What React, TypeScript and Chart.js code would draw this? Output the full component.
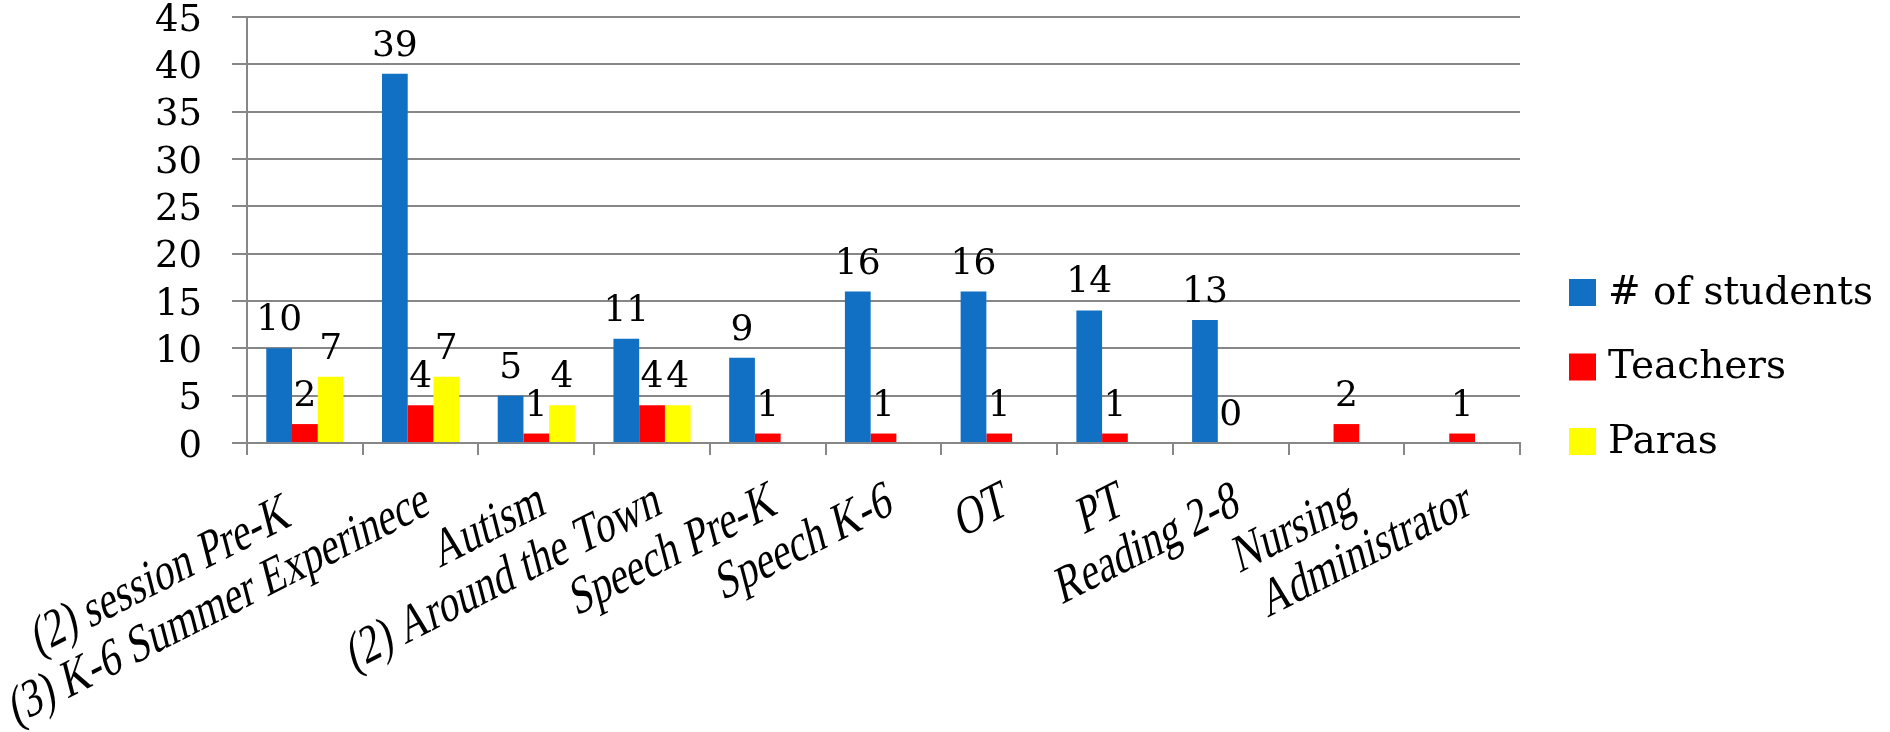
import { useEffect, useRef } from "react";
import { Chart, registerables } from "chart.js";

Chart.register(...registerables);

// Programme categories along the x axis
const categories = [
  "(2) session Pre-K",
  "(3) K-6 Summer Experinece",
  "Autism",
  "(2) Around the Town",
  "Speech Pre-K",
  "Speech K-6",
  "OT",
  "PT",
  "Reading 2-8",
  "Nursing",
  "Administrator",
];

// Series values (null = no bar, no label)
const studentCounts: (number | null)[] = [10, 39, 5, 11, 9, 16, 16, 14, 13, null, null];
const teacherCounts: (number | null)[] = [2, 4, 1, 4, 1, 1, 1, 1, 0, 2, 1];
const paraCounts: (number | null)[] = [7, 7, 4, 4, null, null, null, null, null, null, null];

const seriesNames = ["# of students", "Teachers", "Paras"];
const seriesColors = ["#1170C4", "#FF0000", "#FFFF00"];

// Value axis
const yMin = 0;
const yMax = 45;
const yStep = 5;

const AXIS_GRAY = "#878787";
const NUM_FONT = "'DejaVu Serif', serif";
const CAT_FONT = "'Liberation Serif', 'Times New Roman', serif";

// Numbers printed above each bar
const valueLabelPlugin = {
  id: "valueLabels",
  afterDatasetsDraw(chart: any) {
    const ctx = chart.ctx;
    ctx.save();
    ctx.font = `36px ${NUM_FONT}`;
    ctx.fillStyle = "#000000";
    ctx.textAlign = "center";
    ctx.textBaseline = "alphabetic";
    chart.data.datasets.forEach((ds: any, di: number) => {
      const meta = chart.getDatasetMeta(di);
      meta.data.forEach((bar: any, i: number) => {
        const v = ds.data[i];
        if (v === null || v === undefined) return;
        ctx.fillText(String(v), bar.x, bar.y - 18);
      });
    });
    ctx.restore();
  },
};

// Slanted, tall category names under the x axis
const categoryLabelPlugin = {
  id: "categoryLabels",
  afterDraw(chart: any) {
    const ctx = chart.ctx;
    const xScale = chart.scales.x;
    const angle = (20 * Math.PI) / 180;
    ctx.save();
    ctx.font = `39px ${CAT_FONT}`;
    ctx.fillStyle = "#000000";
    ctx.textAlign = "right";
    ctx.textBaseline = "alphabetic";
    chart.data.labels.forEach((label: string, i: number) => {
      const cx = xScale.getPixelForValue(i);
      ctx.save();
      ctx.translate(cx + 11, xScale.top + 70);
      ctx.scale(1, 1.4);
      ctx.rotate(-angle);
      // the first name sits a little further down its slant
      ctx.fillText(label, i === 0 ? -25 : 0, 0);
      ctx.restore();
    });
    ctx.restore();
  },
};

// Legend column to the right of the plot
const legendPlugin = {
  id: "sideLegend",
  afterDraw(chart: any) {
    const ctx = chart.ctx;
    const area = chart.chartArea;
    const boxX = area.right + 49;
    const box = 27;
    const rowGap = 74.5;
    const midY = 367;
    const n = chart.data.datasets.length;
    ctx.save();
    ctx.font = `39px ${NUM_FONT}`;
    ctx.textAlign = "left";
    ctx.textBaseline = "middle";
    chart.data.datasets.forEach((ds: any, i: number) => {
      const y = midY + (i - (n - 1) / 2) * rowGap;
      ctx.fillStyle = ds.backgroundColor;
      ctx.fillRect(boxX, y - box / 2, box, box);
      ctx.fillStyle = "#000000";
      ctx.fillText(ds.label, boxX + box + 12, y + 1);
    });
    ctx.restore();
  },
};

export default function App() {
  const canvasRef = useRef<HTMLCanvasElement | null>(null);

  useEffect(() => {
    document.body.style.margin = "0";
    const canvas = canvasRef.current;
    if (!canvas) return;

    const seriesValues = [studentCounts, teacherCounts, paraCounts];

    const chart = new Chart(canvas, {
      type: "bar",
      data: {
        labels: categories,
        datasets: seriesNames.map((name, i) => ({
          label: name,
          data: seriesValues[i] as any,
          backgroundColor: seriesColors[i],
          borderWidth: 0,
          categoryPercentage: 0.667,
          barPercentage: 1,
        })),
      },
      options: {
        responsive: false,
        animation: false,
        devicePixelRatio: 1,
        layout: { padding: { top: 17, right: 370, left: 0, bottom: 0 } },
        plugins: {
          legend: { display: false },
          tooltip: { enabled: false },
        },
        scales: {
          x: {
            offset: true,
            ticks: { display: false },
            grid: {
              display: true,
              drawOnChartArea: false,
              drawTicks: true,
              tickLength: 12,
              color: AXIS_GRAY,
              lineWidth: 2,
              offset: true,
            },
            border: { display: true, color: AXIS_GRAY, width: 2 },
            afterFit(scale: any) {
              scale.height = 732 - 443;
              scale.paddingLeft = 0;
              scale.paddingRight = 0;
            },
          },
          y: {
            min: yMin,
            max: yMax,
            ticks: {
              stepSize: yStep,
              autoSkip: false,
              color: "#000000",
              font: { family: NUM_FONT, size: 37 },
              padding: 30,
              labelOffset: 4,
            },
            grid: {
              color: AXIS_GRAY,
              lineWidth: 2,
              tickLength: 15,
              drawTicks: true,
            },
            border: { display: true, color: AXIS_GRAY, width: 2 },
            afterFit(scale: any) {
              scale.width = 247;
              scale.paddingTop = 0;
              scale.paddingBottom = 0;
            },
          },
        },
      },
      plugins: [valueLabelPlugin, categoryLabelPlugin, legendPlugin],
    });

    return () => chart.destroy();
  }, []);

  return (
    <canvas
      ref={canvasRef}
      width={1890}
      height={732}
      style={{ display: "block", width: 1890, height: 732 }}
    />
  );
}
